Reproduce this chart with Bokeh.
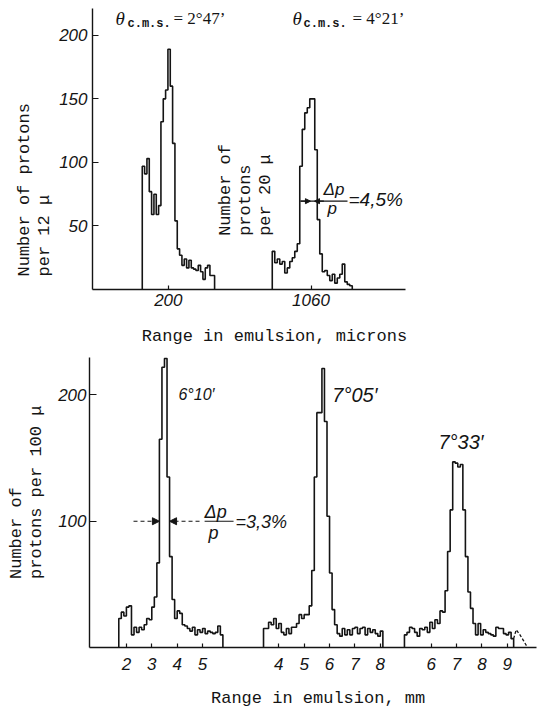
import numpy as np
from bokeh.plotting import figure
from bokeh.models import Label, Arrow, NormalHead, FixedTicker, Range1d
from bokeh.embed import file_html
from bokeh.resources import INLINE

# ---------------- data ----------------
# Upper panel: range spectra in microns (broken axis, two spectra)
top1_start_um = 66          # theta_cms = 2 deg 47', bins of 12 microns
top1_bin_um = 12
top1_counts = [97, 91, 103, 77, 59, 75, 59, 66, 132, 150,
               157, 189, 160, 115, 54, 32, 27, 19, 24, 17,
               23, 17, 16, 15, 19, 14, 8, 17, 19, 11, 11]
top2_start_um = 750         # theta_cms = 4 deg 21', bins of 20 microns
top2_bin_um = 20
top2_counts = [30, 21, 24, 20, 22, 13, 17, 22, 25, 30,
               36, 97, 126, 139, 143, 150, 150, 110, 55, 28,
               14, 15, 11, 7, 12, 5, 9, 12, 20, 6, 4, 3]
top_tick_um = [[200], [1060]]
top_y_ticks = [50, 100, 150, 200]

# Lower panel: range spectra in mm, bins of 100 microns
bot_bin_mm = 0.1
bot1_start_mm = 1.7         # 6 deg 10'
bot1_counts = [23, 28, 25, 32, 33, 10, 16, 12, 16, 14,
               18, 23, 22, 32, 40, 67, 165, 222, 229, 135,
               72, 38, 23, 29, 27, 18, 17, 15, 13, 16,
               10, 14, 12, 15, 11, 13, 12, 11, 12, 17, 10]
bot2_start_mm = 3.4         # 7 deg 05'
bot2_counts = [15, 15, 20, 18, 23, 15, 19, 12, 10, 15,
               11, 16, 16, 19, 26, 23, 26, 26, 33, 61,
               135, 186, 186, 221, 179, 104, 59, 30, 18, 11,
               9, 15, 10, 14, 10, 15, 16, 11, 15, 16,
               10, 15, 12, 14, 11, 9, 13]
bot3_start_mm = 4.95        # 7 deg 33'
bot3_counts = [10, 12, 16, 15, 12, 9, 15, 14, 16, 12,
               20, 15, 22, 19, 29, 28, 45, 76, 109, 147,
               146, 143, 145, 109, 72, 44, 31, 19, 10, 19,
               10, 14, 12, 11, 10, 9, 16, 15, 15, 11,
               10, 12, 7]
bot3_tail_mm = [9.25, 9.35, 9.5, 9.65, 9.8]      # dashed continuation
bot3_tail_counts = [7, 14, 10, 5, 0]
bot_tick_mm = [[2, 3, 4, 5], [4, 5, 6, 7, 8], [6, 7, 8, 9]]
bot_y_ticks = [100, 200]

# ---------------- display mapping of the broken axes ----------------
TOP_SEGMENTS = [(200.0, 200.0, 1.0), (1060.0, 934.0, 0.643)]  # (anchor um, display pos, scale)
BOT_OFFSETS = [0.0, 4.0, 8.0]


def top_disp(um, seg):
    a, pos, s = TOP_SEGMENTS[seg]
    return pos + s * (np.asarray(um, dtype=float) - a)


def bot_disp(mm, seg):
    return np.asarray(mm, dtype=float) + BOT_OFFSETS[seg]


def step_path(start, width, counts):
    edges = start + width * np.arange(len(counts) + 1)
    xs = np.repeat(edges, 2)
    ys = np.concatenate([[0.0], np.repeat(np.asarray(counts, dtype=float), 2), [0.0]])
    return xs, ys


INK = "#141414"
MONO = "Liberation Mono"
SANS = "Liberation Sans"
SERIF = "Liberation Serif"
NB = "\u00a0"


def pad(text, lead, total):
    return NB * lead + text + NB * (total - lead - len(text))


def base_fig(w, h, xr, yr, bl, br, bt, bb):
    p = figure(width=w, height=h, x_range=Range1d(*xr), y_range=Range1d(*yr),
               output_backend="svg", toolbar_location=None,
               min_border_left=bl, min_border_right=br,
               min_border_top=bt, min_border_bottom=bb)
    p.outline_line_color = None
    p.grid.visible = False
    p.background_fill_color = "white"
    p.border_fill_color = "white"
    for ax in (p.xaxis[0], p.yaxis[0]):
        ax.axis_line_color = INK
        ax.axis_line_width = 1.4
        ax.major_tick_line_color = INK
        ax.major_tick_line_width = 1.2
        ax.major_tick_out = 0
        ax.minor_tick_line_color = None
        ax.major_label_text_font = SANS
        ax.major_label_text_font_style = "italic"
        ax.major_label_text_color = INK
        ax.major_label_text_font_size = "17px"
        ax.axis_label_text_font = MONO
        ax.axis_label_text_font_style = "normal"
        ax.axis_label_text_font_size = "17px"
        ax.axis_label_text_color = INK
    return p


def lab(p, x, y, text, font=SANS, size="17px", style="italic", angle=0.0,
        align="left", baseline="middle"):
    p.add_layout(Label(x=x, y=y, text=text, text_font=font, text_font_size=size,
                       text_font_style=style, text_color=INK, angle=angle,
                       text_align=align, text_baseline=baseline))


# ---------------- upper panel ----------------
p1 = base_fig(539, 348, (-190, 1420), (0, 221.1), 92, 134, 8, 57)
for seg, (start, width, counts) in enumerate([(top1_start_um, top1_bin_um, top1_counts),
                                              (top2_start_um, top2_bin_um, top2_counts)]):
    xs, ys = step_path(start, width, counts)
    p1.line(top_disp(xs, seg), ys, line_color=INK, line_width=1.6)

t_ticks, t_over = [], {}
for seg, ticks in enumerate(top_tick_um):
    for t in ticks:
        d = float(top_disp(t, seg))
        t_ticks.append(d)
        t_over[d] = str(t)
p1.xaxis.ticker = FixedTicker(ticks=t_ticks)
p1.xaxis.major_label_overrides = t_over
p1.xaxis.major_tick_in = 4
p1.xaxis.major_label_standoff = 4
p1.xaxis.axis_label = pad("Range in emulsion, microns", 5, 31)
p1.xaxis.axis_label_standoff = 18
p1.yaxis.ticker = FixedTicker(ticks=top_y_ticks)
p1.yaxis.major_tick_in = 6
p1.yaxis.major_label_standoff = 5
p1.yaxis.axis_label = pad("Number of protons", 0, 25) + "\n" + pad("per 12 μ", 0, 25)
p1.yaxis.axis_label_text_line_height = 1.05
p1.yaxis.axis_label_standoff = 2

# titles
lab(p1, -71.7, 213.3, "θ", font=SERIF, size="19px")
lab(p1, -10.0, 209.0, "c.m.s.", font=MONO, size="12px", style="bold")
lab(p1, 226.7, 213.3, "= 2°47’", font=SERIF, size="17px", style="normal")
lab(p1, 838.8, 213.3, "θ", font=SERIF, size="19px")
lab(p1, 895.4, 209.0, "c.m.s.", font=MONO, size="12px", style="bold")
lab(p1, 1147.4, 213.3, "= 4°21’", font=SERIF, size="17px", style="normal")

ang = np.pi / 2
lab(p1, 491.6, 42.2, "Number of", font=MONO, style="normal", angle=ang)
lab(p1, 597.0, 42.2, "protons", font=MONO, style="normal", angle=ang)
lab(p1, 700.0, 42.2, "per 20 μ", font=MONO, style="normal", angle=ang)

# resolution marker
p1.add_layout(Arrow(end=None, x_start=880, y_start=69.5, x_end=1121.7, y_end=69.5,
                    line_color=INK, line_width=1.2))
p1.add_layout(Arrow(end=NormalHead(size=5, fill_color=INK, line_color=INK),
                    x_start=880, y_start=69.5, x_end=931, y_end=69.5,
                    line_color=INK, line_width=1.2))
p1.add_layout(Arrow(end=NormalHead(size=5, fill_color=INK, line_color=INK),
                    x_start=1000, y_start=69.5, x_end=952, y_end=69.5,
                    line_color=INK, line_width=1.2))
lab(p1, 998.3, 78.9, "Δp", size="17px")
lab(p1, 1018.8, 63.5, "p", size="17px")
lab(p1, 1126.9, 71.1, "=4,5%", size="19px")

# ---------------- lower panel ----------------
p2 = base_fig(539, 362, (0.547, 18.15), (0, 229.7), 89, 3, 9, 59)
for seg, (start, counts) in enumerate([(bot1_start_mm, bot1_counts),
                                       (bot2_start_mm, bot2_counts),
                                       (bot3_start_mm, bot3_counts)]):
    xs, ys = step_path(start, bot_bin_mm, counts)
    p2.line(bot_disp(xs, seg), ys, line_color=INK, line_width=1.6)
p2.line(bot_disp(bot3_tail_mm, 2), bot3_tail_counts, line_color=INK, line_width=1.3,
        line_dash="3 2")

b_ticks, b_over = [], {}
for seg, ticks in enumerate(bot_tick_mm):
    for t in ticks:
        d = float(bot_disp(t, seg))
        b_ticks.append(d)
        b_over[d] = str(t)
p2.xaxis.ticker = FixedTicker(ticks=b_ticks)
p2.xaxis.major_label_overrides = b_over
p2.xaxis.major_tick_in = 4
p2.xaxis.major_label_standoff = 10
p2.xaxis.axis_label = pad("Range in emulsion, mm", 1, 22)
p2.xaxis.axis_label_standoff = 16
p2.yaxis.ticker = FixedTicker(ticks=bot_y_ticks)
p2.yaxis.major_tick_in = 7
p2.yaxis.major_label_standoff = 3
p2.yaxis.axis_label = pad("Number of", 2, 19) + "\n" + pad("protons per 100 μ", 2, 19)
p2.yaxis.axis_label_text_line_height = 1.05
p2.yaxis.axis_label_standoff = 9

lab(p2, 4.05, 200, "6°10′", size="16px")
lab(p2, 10.11, 200, "7°05′", size="20px")
lab(p2, 14.29, 162.5, "7°33′", size="20px")

head = dict(size=7, fill_color=INK, line_color=INK)
p2.add_layout(Arrow(end=NormalHead(**head), x_start=2.28, y_start=100, x_end=3.3, y_end=100,
                    line_color=INK, line_width=1.2, line_dash="4 3"))
p2.add_layout(Arrow(end=NormalHead(**head), x_start=4.88, y_start=100, x_end=3.7, y_end=100,
                    line_color=INK, line_width=1.2, line_dash="4 3"))
p2.add_layout(Arrow(end=None, x_start=5.08, y_start=100, x_end=6.22, y_end=100,
                    line_color=INK, line_width=1.2))
lab(p2, 5.08, 107.5, "Δp", size="18px")
lab(p2, 5.23, 91.0, "p", size="18px")
lab(p2, 6.30, 99.2, "=3,3%", size="18px")

# two independent roots, stacked, so that each panel keeps its own frame
open("out.html", "w").write(file_html([p1, p2], INLINE))
